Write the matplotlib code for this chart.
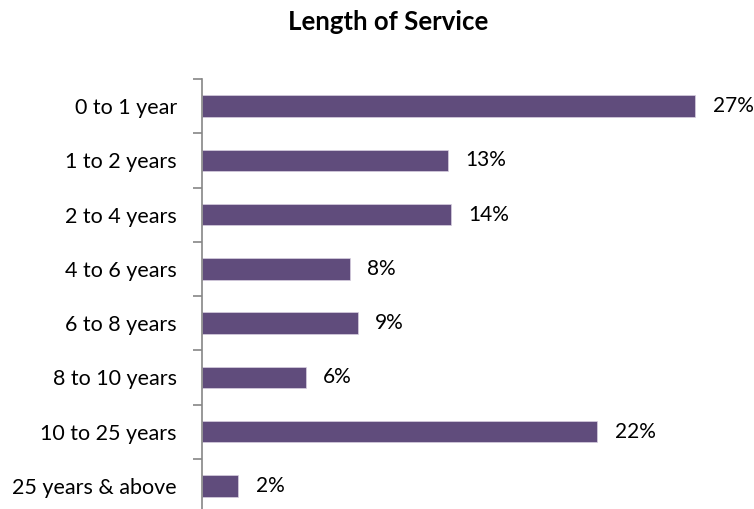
import matplotlib
matplotlib.use("Agg")
import matplotlib.pyplot as plt
import numpy as np

categories = ["0 to 1 year", "1 to 2 years", "2 to 4 years", "4 to 6 years",
              "6 to 8 years", "8 to 10 years", "10 to 25 years", "25 years & above"]
shares = [27.0, 13.45, 13.65, 8.1, 8.52, 5.67, 21.65, 1.99]

plt.rcParams["font.family"] = ["Lato", "DejaVu Sans"]

W, H = 754, 509
fig = plt.figure(figsize=(W / 100, H / 100), dpi=100)
fig.patch.set_facecolor("white")

left, right, top, bottom = 202, 750, 79, 513
ax = fig.add_axes([left / W, (H - bottom) / H, (right - left) / W, (bottom - top) / H])

y = np.arange(len(categories))
bar_color = "#604C7C"
ax.barh(y, shares, height=0.40, color=bar_color, edgecolor="#D8D0E0", linewidth=0.5)

ax.set_xlim(0, 30)
ax.set_ylim(len(categories) - 0.5, -0.5)

for yi, v in zip(y, shares):
    lbl = f"{int(v + 0.5)}%"
    ax.annotate(lbl, xy=(v, yi), xytext=(12.5, 0), textcoords="offset points",
                ha="left", va="center", fontsize=15, color="black",
                annotation_clip=False)

ax.set_yticks(y)
ax.set_yticklabels(categories, fontsize=15.5, color="black")
ax.tick_params(axis="y", which="major", length=0, pad=18)
ax.set_yticks(np.arange(-0.5, len(categories), 1.0), minor=True)
ax.tick_params(axis="y", which="minor", length=6.5, width=1.2, color="#868686")
ax.set_xticks([])

for s in ["top", "right", "bottom"]:
    ax.spines[s].set_visible(False)
ax.spines["left"].set_color("#868686")
ax.spines["left"].set_linewidth(1.2)

fig.text(388 / W, (H - 30) / H, "Length of Service", ha="center", va="baseline",
         fontsize=18.5, fontweight="bold", color="black")

fig.savefig("out.png", dpi=100, facecolor="white")
